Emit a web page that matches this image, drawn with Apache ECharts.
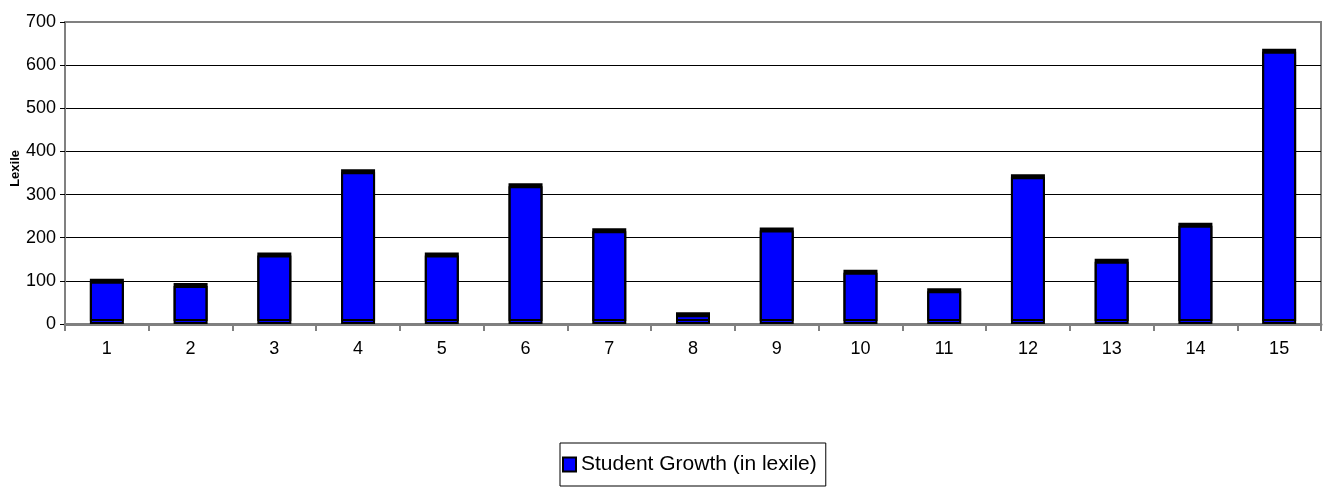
<!DOCTYPE html>
<html>
<head>
<meta charset="utf-8">
<script src="https://cdn.jsdelivr.net/npm/echarts@6/dist/echarts.min.js"></script>
<style>
  html, body { margin: 0; padding: 0; background: #fff; }
  #main { width: 1326px; height: 504px; }
</style>
</head>
<body>
<div id="main"></div>
<script>
const students = ['1', '2', '3', '4', '5', '6', '7', '8', '9', '10', '11', '12', '13', '14', '15'];
const growth = [98, 88, 159, 352, 159, 319, 215, 20, 217, 119, 76, 340, 144, 228, 631];
const seriesName = 'Student Growth (in lexile)';
const yTitle = 'Lexile';

const FONT = '"Liberation Sans Narrow", "Liberation Sans", Arial, sans-serif';

const chart = echarts.init(document.getElementById('main'), null, { renderer: 'canvas' });

// gridline colours, from 0 up to 700 (top one is the plot border)
const splitColors = ['#000', '#000', '#000', '#000', '#000', '#000', '#000', '#808080'];

chart.setOption({
  backgroundColor: '#ffffff',
  animation: false,
  grid: {
    left: 65, right: 5, top: 22, bottom: 180,
    outerBoundsMode: 'none',
    show: true, borderColor: '#808080', borderWidth: 2
  },
  // y title placed by hand, the axis name keeps getting pushed to the edge
  graphic: [{
    type: 'text',
    left: 9, top: 150,
    rotation: Math.PI / 2,
    style: { text: yTitle, fontFamily: FONT, fontSize: 13, fontWeight: 'bold', fill: '#000' }
  }],
  legend: {
    data: [seriesName],
    left: 560, top: 443,
    orient: 'horizontal',
    borderColor: '#000', borderWidth: 1,
    padding: [11, 9, 11, 2],
    itemWidth: 13, itemHeight: 14, itemGap: 0,
    icon: 'rect',
    textStyle: { fontFamily: FONT, fontSize: 21, color: '#000' }
  },
  xAxis: {
    type: 'category',
    data: students,
    axisLine: { lineStyle: { color: '#808080', width: 3 } },
    axisTick: { show: true, length: 7, lineStyle: { color: '#808080', width: 2 } },
    axisLabel: { fontFamily: FONT, fontSize: 18, color: '#000', margin: 16 }
  },
  yAxis: {
    type: 'value',
    min: 0, max: 700, interval: 100,
    axisLine: { show: true, lineStyle: { color: '#808080', width: 2 } },
    axisTick: { show: true, length: 5, lineStyle: { color: '#000' } },
    axisLabel: { fontFamily: FONT, fontSize: 18, color: '#000', margin: 9 },
    splitLine: { show: true, lineStyle: { color: splitColors, width: 1 } }
  },
  series: [{
    name: seriesName,
    type: 'bar',
    data: growth,
    barWidth: 34,
    itemStyle: {
      color: '#0000ff',
      borderColor: '#000',
      borderWidth: 2,
      shadowColor: '#000',
      shadowBlur: 0,
      shadowOffsetY: -3
    }
  }]
});
</script>
</body>
</html>
